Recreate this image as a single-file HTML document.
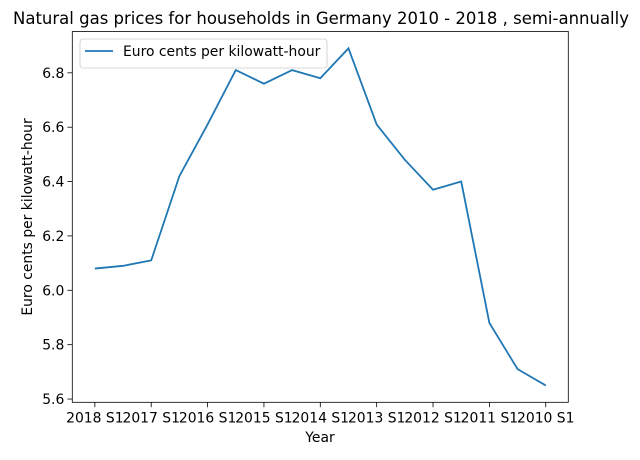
<!DOCTYPE html>
<html><head><meta charset="utf-8"><style>
body{margin:0;background:#fff}
svg text{font-family:"DejaVu Sans","Liberation Sans",sans-serif;fill:#000}
</style></head><body>
<svg id="chart" width="640" height="455" viewBox="0 0 640 455">
<rect width="640" height="455" fill="#fff"/>
<text x="321" y="24" font-size="16.5" text-anchor="middle">Natural gas prices for households in Germany 2010 - 2018 , semi-annually</text>
<g id="xt"></g>
<g id="yt"></g>
<path id="line" fill="none" stroke="#1f77b4" stroke-width="1.8"/>
<rect x="72.3" y="31.5" width="496" height="370.8" fill="none" stroke="#000" stroke-width="0.8"/>
<text x="320" y="442" font-size="13.9" text-anchor="middle">Year</text>
<text transform="translate(32,217) rotate(-90)" font-size="13.9" text-anchor="middle">Euro cents per kilowatt-hour</text>
<g>
<rect x="80" y="39" width="247" height="29" rx="3" fill="#fff" stroke="#ccc" stroke-width="0.8"/>
<line x1="85" y1="51" x2="113" y2="51" stroke="#1f77b4" stroke-width="1.8"/>
<text x="123" y="56" font-size="13.9">Euro cents per kilowatt-hour</text>
</g>
</svg>
<script>
const categories=["2018 S1","2017 S2","2017 S1","2016 S2","2016 S1","2015 S2","2015 S1","2014 S2","2014 S1","2013 S2","2013 S1","2012 S2","2012 S1","2011 S2","2011 S1","2010 S2","2010 S1"];
const values=[6.08,6.09,6.11,6.42,6.61,6.81,6.76,6.81,6.78,6.89,6.61,6.48,6.37,6.40,5.88,5.71,5.65];
const yTicks=[5.6,5.8,6.0,6.2,6.4,6.6,6.8];
const L=72.3,R=568.3,T=31.5,B=402.3;
const minV=Math.min(...values),maxV=Math.max(...values),pad=(maxV-minV)*0.05;
const y0=minV-pad,y1=maxV+pad;
const n=categories.length,xpad=(n-1)*0.05;
const xs=i=>L+(i+xpad)/((n-1)+2*xpad)*(R-L);
const ys=v=>B-(v-y0)/(y1-y0)*(B-T);
const NS="http://www.w3.org/2000/svg";
function mk(t,a,p){const e=document.createElementNS(NS,t);for(const k in a)e.setAttribute(k,a[k]);p.appendChild(e);return e;}
const xt=document.getElementById('xt'),yt=document.getElementById('yt');
categories.forEach((c,i)=>{if(i%2)return;const x=xs(i);
const tk=mk('line',{x1:x,x2:x,y1:B,y2:B+4.9,stroke:'#000','stroke-width':0.8},xt);


const t=mk('text',{x:x,y:B+20,'font-size':13.9,'text-anchor':'middle'},xt);t.textContent=c;

});
yTicks.forEach(v=>{const y=ys(v);
const tk=mk('line',{x1:L-4.9,x2:L,y1:y,y2:y,stroke:'#000','stroke-width':0.8},yt);


const t=mk('text',{x:L-8,y:y+5,'font-size':13.9,'text-anchor':'end'},yt);t.textContent=v.toFixed(1);

});
document.getElementById('line').setAttribute('d',values.map((v,i)=>(i?'L':'M')+xs(i).toFixed(2)+','+ys(v).toFixed(2)).join(''));
</script>
</body></html>
